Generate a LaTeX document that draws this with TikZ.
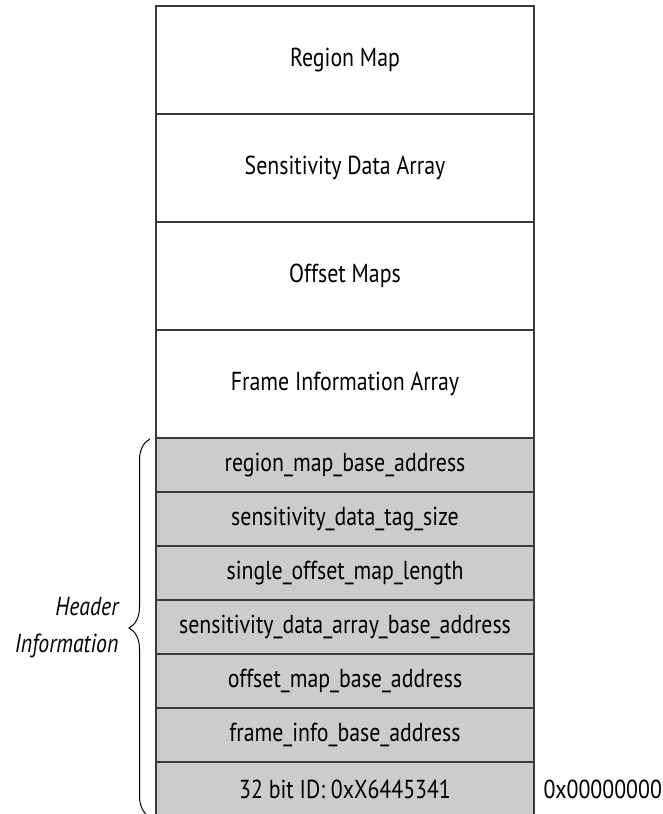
\documentclass[tikz,border=0pt]{standalone}
\usepackage{fontspec}
\setmainfont[FakeStretch=0.84]{PT Sans}
\usepackage{tikz}
\usetikzlibrary{positioning, decorations.pathreplacing}
\definecolor{rule}{HTML}{3A3A3A}
\definecolor{hdrgray}{HTML}{CCCCCC}
\tikzset{cell/.style = {rectangle,draw=rule,line width=1.4pt,minimum width=378pt,
                        minimum height=108pt,inner sep=0pt,outer sep=0pt,font=\fontsize{26}{31}\selectfont},
         hdr/.style = {cell,fill=hdrgray,minimum height=54pt}}

\begin{document}
\begin{tikzpicture}[x=1pt, y=-1pt]
            \useasboundingbox (0,0) rectangle (662,814);

            \node[cell] (0) at (345,  60) {Region Map};
            \node[cell] (1) at (345, 168) {Sensitivity Data Array};
            \node[cell] (2) at (345, 276) {Offset Maps};
            \node[cell] (3) at (345, 384) {Frame Information Array};

            \node[hdr] (4) at (345, 465) {region\_map\_base\_address};
            \node[hdr] (5) at (345, 519) {sensitivity\_data\_tag\_size};
            \node[hdr] (6) at (345, 573) {single\_offset\_map\_length};
            \node[hdr] (7) at (345, 627) {sensitivity\_data\_array\_base\_address};
            \node[hdr] (8) at (345, 681) {offset\_map\_base\_address};
            \node[hdr] (9) at (345, 735) {frame\_info\_base\_address};
            \node[hdr] (10) at (345, 789) {32 bit ID: 0xX6445341};

            \node[anchor=west,font=\fontsize{26}{31}\selectfont] (11) at (540, 789) {0x00000000};

            \coordinate (b0) at (150, 817);
            \coordinate (b1) at (150, 439);
            \draw[line width=1pt, decorate, decoration={brace, amplitude=21pt}] (b0) -- (b1);
            \node[anchor=east, align=right, font=\fontsize{26}{37}\selectfont\itshape] (12) at (122, 628) {Header\\Information};
        \end{tikzpicture}
\end{document}
